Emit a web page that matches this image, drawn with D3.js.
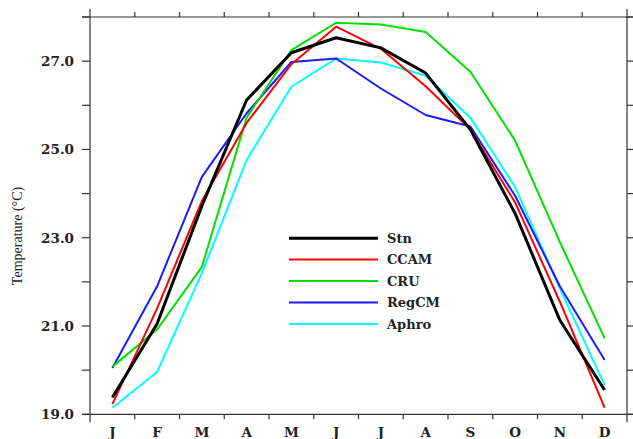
<!DOCTYPE html>
<html><head><meta charset="utf-8">
<script src="https://cdn.jsdelivr.net/npm/d3@7"></script>
<style>html,body{margin:0;padding:0;background:#fff;}svg{display:block;}</style>
</head><body>
<script>
const months = ["J","F","M","A","M","J","J","A","S","O","N","D"];
const seriesNames = ["Stn","CCAM","CRU","RegCM","Aphro"];
const stn   = [19.38,21.05,23.72,26.12,27.19,27.53,27.30,26.73,25.45,23.55,21.13,19.55];
const ccam  = [19.23,21.40,23.83,25.60,26.93,27.78,27.28,26.43,25.45,23.80,21.55,19.15];
const cru   = [20.08,20.92,22.34,25.72,27.25,27.87,27.83,27.66,26.76,25.20,22.90,20.72];
const regcm = [20.05,21.90,24.38,25.82,26.98,27.06,26.38,25.78,25.52,23.95,21.90,20.23];
const aphro = [19.15,19.96,22.20,24.76,26.42,27.06,26.97,26.67,25.72,24.15,21.85,19.66];
const yTickValues = [19,20,21,22,23,24,25,26,27,28];
const yTickLabels = ["19.0","21.0","23.0","25.0","27.0"];
const yTitle = "Temperature (\u00B0C)";

const W = 633, H = 439;
const L = 90, R = 627, T = 17, B = 414.3;
const svg = d3.select("body").append("svg").attr("width", W).attr("height", H);

const x = d3.scaleBand().domain(d3.range(months.length)).range([L, R]).padding(0);
const y = d3.scaleLinear().domain([19, 28]).range([B, T]);
const cx = i => x(i) + x.bandwidth() / 2;

const series = [
  {name: seriesNames[0], vals: stn,   color: "#000000", w: 3},
  {name: seriesNames[1], vals: ccam,  color: "#ff0000", w: 2},
  {name: seriesNames[2], vals: cru,   color: "#00e000", w: 2},
  {name: seriesNames[3], vals: regcm, color: "#1a1aff", w: 2},
  {name: seriesNames[4], vals: aphro, color: "#00ffff", w: 2}
];

const axisColor = "#333";
const ext = 8;
// frame
const g = svg.append("g");
g.append("line").attr("x1", L - ext).attr("x2", R + ext).attr("y1", T).attr("y2", T);
g.append("line").attr("x1", L - ext).attr("x2", R + ext).attr("y1", B).attr("y2", B);
g.append("line").attr("x1", L).attr("x2", L).attr("y1", T - ext).attr("y2", B + ext);
g.append("line").attr("x1", R).attr("x2", R).attr("y1", T - ext).attr("y2", B + ext);
// x ticks at band boundaries
const bounds = d3.range(1, months.length).map(i => x(i));
bounds.forEach(bx => {
  g.append("line").attr("x1", bx).attr("x2", bx).attr("y1", T).attr("y2", T - 5);
  g.append("line").attr("x1", bx).attr("x2", bx).attr("y1", B).attr("y2", B + 5);
});
// y ticks
yTickValues.forEach(v => {
  g.append("line").attr("x1", L).attr("x2", L - ext).attr("y1", y(v)).attr("y2", y(v));
  g.append("line").attr("x1", R).attr("x2", R + ext).attr("y1", y(v)).attr("y2", y(v));
});
g.selectAll("line").attr("stroke", axisColor).attr("stroke-width", 1.2);

// y labels
yTickLabels.forEach(s => {
  svg.append("text").attr("x", 74).attr("y", y(+s)).attr("dy", "0.36em")
    .attr("text-anchor", "end").attr("font-family", "DejaVu Serif").attr("font-weight", "bold")
    .attr("font-size", 13.5).attr("fill", "#222").text(s);
});
// x labels
months.forEach((m, i) => {
  svg.append("text").attr("x", cx(i)).attr("y", 432).attr("dy", "0.36em")
    .attr("text-anchor", "middle").attr("font-family", "DejaVu Serif").attr("font-weight", "bold")
    .attr("font-size", 13.5).attr("fill", "#222").text(m);
});
// y title
svg.append("text").attr("transform", "translate(22,236) rotate(-90)")
  .attr("text-anchor", "middle").attr("font-family", "Liberation Serif")
  .attr("font-size", 14).attr("fill", "#222").text(yTitle);

// lines
const line = d3.line().x((d, i) => cx(i)).y(d => y(d));
series.slice().reverse().forEach(s => {
  svg.append("path").datum(s.vals).attr("d", line).attr("fill", "none")
    .attr("stroke", s.color).attr("stroke-width", s.w).attr("stroke-linejoin", "round");
});

// legend
const legY = [238.3, 259.5, 281, 302.5, 324];
series.forEach((s, i) => {
  svg.append("line").attr("x1", 289).attr("x2", 378).attr("y1", legY[i]).attr("y2", legY[i])
    .attr("stroke", s.color).attr("stroke-width", s.w);
  svg.append("text").attr("x", 387).attr("y", legY[i]).attr("dy", "0.36em")
    .attr("font-family", "DejaVu Serif").attr("font-weight", "bold").attr("font-size", 13)
    .attr("fill", "#222").text(s.name);
});
</script>
</body></html>
